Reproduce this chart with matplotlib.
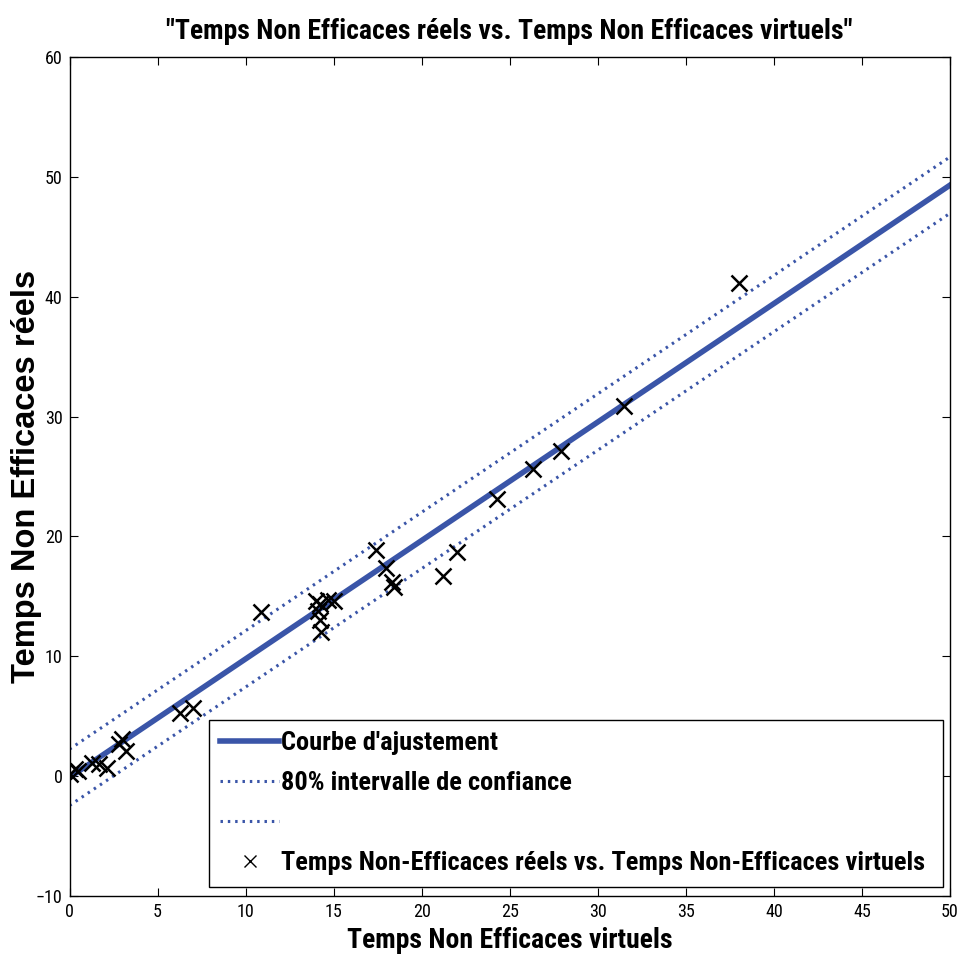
import numpy as np
import matplotlib
matplotlib.use('Agg')
from matplotlib import pyplot as plt
from matplotlib.lines import Line2D

# measured points (virtual, real)
virtuel = [0.0, 0.3, 0.5, 1.3, 1.7, 2.1, 2.8, 3.0, 3.2, 6.3, 7.0, 10.9,
           14.0, 14.2, 14.7, 15.0, 14.1, 14.2, 14.3,
           17.4, 18.0, 18.3, 18.4, 21.2, 22.0, 24.3, 26.3, 27.9, 31.5, 38.0]
reel = [0.2, 0.6, 0.4, 1.1, 1.0, 0.7, 2.7, 3.1, 2.1, 5.3, 5.7, 13.7,
        14.6, 14.4, 14.7, 14.6, 13.8, 13.0, 12.0,
        18.9, 17.4, 16.2, 15.8, 16.7, 18.7, 23.1, 25.6, 27.1, 30.9, 41.1]

# fitted line and 80% band
pente = 0.988
ordonnee = -0.1
demi_largeur = 2.35

x_fit = np.array([0, 50])
y_fit = pente * x_fit + ordonnee

bleu = '#3a55a8'
narrow = ['Liberation Sans Narrow', 'Roboto Condensed', 'DejaVu Sans Condensed',
          'Liberation Sans']

fig = plt.figure(figsize=(9.59, 9.65), dpi=100)
ax = fig.add_axes([0.0725, 0.0715, 0.918, 0.8695])

l_fit, = ax.plot(x_fit, y_fit, color=bleu, lw=4)
l_up, = ax.plot(x_fit, y_fit + demi_largeur, color=bleu, lw=2.2, ls=(0, (0.8, 1.6)))
l_lo, = ax.plot(x_fit, y_fit - demi_largeur, color=bleu, lw=2.2, ls=(0, (0.8, 1.6)))
ax.plot(virtuel, reel, 'x', color='black', ms=11, mew=1.8, zorder=5)

ax.set_xlim(0, 50)
ax.set_ylim(-10, 60)
ax.set_xticks(np.arange(0, 51, 5))
ax.set_yticks(np.arange(-10, 61, 10))
ax.tick_params(direction='in', top=True, right=True, length=6, width=0.8,
               labelsize=13, pad=5)
for lab in ax.get_xticklabels() + ax.get_yticklabels():
    lab.set_family(narrow)
for s in ax.spines.values():
    s.set_linewidth(1.0)

ax.set_title('"Temps Non Efficaces réels vs. Temps Non Efficaces virtuels"',
             family=narrow, fontweight='bold', fontsize=20, pad=13)
ax.set_xlabel('Temps Non Efficaces virtuels', family=narrow,
              fontweight='bold', fontsize=20, labelpad=4)
ax.set_ylabel('Temps Non Efficaces réels', family=['Liberation Sans', 'DejaVu Sans'],
              fontweight='bold', fontsize=23.5)
ax.yaxis.set_label_coords(-0.031, 0.5)

leg_x = Line2D([], [], marker='x', color='black', ls='none', ms=9, mew=1.0)
leg = ax.legend([l_fit, l_up, l_lo, leg_x],
                ["Courbe d'ajustement", '80% intervalle de confiance', '',
                 'Temps Non-Efficaces réels vs. Temps Non-Efficaces virtuels'],
                loc='lower left', bbox_to_anchor=(0.158, 0.011, 0.834, 0.2),
                mode='expand', fancybox=False, edgecolor='black',
                framealpha=1, handlelength=2.2, handletextpad=0.1,
                labelspacing=0.6, borderpad=0.45, borderaxespad=0,
                prop={'family': narrow, 'weight': 'bold', 'size': 19})
leg.get_frame().set_linewidth(1.0)

fig.savefig('out.png', dpi=100)
